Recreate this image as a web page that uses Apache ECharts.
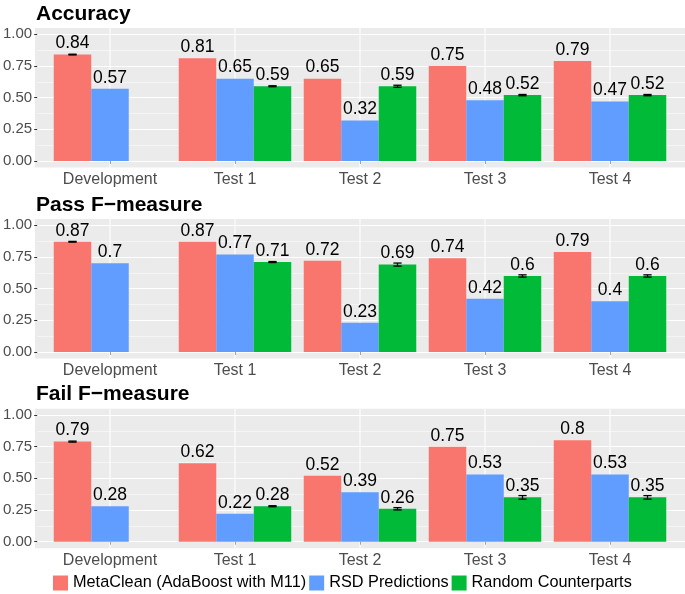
<!DOCTYPE html>
<html>
<head>
<meta charset="utf-8">
<script src="https://cdn.jsdelivr.net/npm/echarts@6/dist/echarts.min.js"></script>
<style>
html,body{margin:0;padding:0;background:#fff;}
#chart{width:685px;height:594px;}
</style>
</head>
<body>
<div id="chart"></div>
<script>
// ---- data ----
var categories = ['Development', 'Test 1', 'Test 2', 'Test 3', 'Test 4'];
var seriesNames = ['MetaClean (AdaBoost with M11)', 'RSD Predictions', 'Random Counterparts'];
var panelTitles = ['Accuracy', 'Pass F\u2212measure', 'Fail F\u2212measure'];
var yTicks = [0, 0.25, 0.5, 0.75, 1];

var accMetaClean = [0.84, 0.81, 0.65, 0.75, 0.79];
var accRSD       = [0.57, 0.65, 0.32, 0.48, 0.47];
var accRandom    = [null, 0.59, 0.59, 0.52, 0.52];
var accMetaCleanErr = [0.003, null, null, null, null];
var accRandomErr    = [null, 0.004, 0.008, 0.005, 0.005];

var passMetaClean = [0.87, 0.87, 0.72, 0.74, 0.79];
var passRSD       = [0.70, 0.77, 0.23, 0.42, 0.40];
var passRandom    = [null, 0.71, 0.69, 0.60, 0.60];
var passMetaCleanErr = [0.003, null, null, null, null];
var passRandomErr    = [null, 0.004, 0.012, 0.009, 0.009];

var failMetaClean = [0.79, 0.62, 0.52, 0.75, 0.80];
var failRSD       = [0.28, 0.22, 0.39, 0.53, 0.53];
var failRandom    = [null, 0.28, 0.26, 0.35, 0.35];
var failMetaCleanErr = [0.004, null, null, null, null];
var failRandomErr    = [null, 0.004, 0.009, 0.014, 0.014];

// ---- layout / style ----
var colors = ['#F8766D', '#619CFF', '#00BA38'];
var FONT = '"Liberation Sans", Arial, Helvetica, sans-serif';
var dataTops = [34.3, 225.3, 415];
var dataH = 126.7;
var padTop = 6.3, padBottom = 6.5;
var panelLeft = 35, panelRight = 0;
var bandInset = 12.5; // ggplot discrete expansion beyond the category bands

var panels = [
  {vals: [accMetaClean, accRSD, accRandom], errs: [accMetaCleanErr, null, accRandomErr]},
  {vals: [passMetaClean, passRSD, passRandom], errs: [passMetaCleanErr, null, passRandomErr]},
  {vals: [failMetaClean, failRSD, failRandom], errs: [failMetaCleanErr, null, failRandomErr]}
];

var grid = [], xAxis = [], yAxis = [], series = [], title = [];
// grid index: 0..2 background, 3..5 y-scale grid (full width), 6..8 bar grid (inset)
panels.forEach(function (p, i) {
  grid.push({left: panelLeft, right: panelRight, top: dataTops[i] - padTop, height: dataH + padTop + padBottom,
    show: true, backgroundColor: '#EBEBEB', borderWidth: 0});
  title.push({text: panelTitles[i], left: 36, top: dataTops[i] - 31, padding: 0,
    textStyle: {fontFamily: FONT, fontSize: 21, fontWeight: 'bold', color: '#000'}});
  xAxis.push({type: 'category', gridIndex: i, data: categories, show: false});
  yAxis.push({type: 'value', gridIndex: i, min: 0, max: 1, show: false, splitLine: {show: false}});
});
panels.forEach(function (p, i) {
  grid.push({left: panelLeft, right: panelRight, top: dataTops[i], height: dataH, show: false});
  xAxis.push({type: 'category', gridIndex: 3 + i, data: categories, show: false});
  yAxis.push({type: 'value', gridIndex: 3 + i, min: 0, max: 1, interval: 0.25,
    axisLine: {show: false},
    axisTick: {show: true, length: 3, lineStyle: {color: '#333', width: 1}},
    axisLabel: {color: '#4D4D4D', fontSize: 15, fontFamily: FONT, margin: 5,
      formatter: function (v) { return v.toFixed(2); }},
    splitLine: {show: true, lineStyle: {color: '#FFFFFF', width: 1.1}},
    minorTick: {show: false, splitNumber: 2},
    minorSplitLine: {show: true, lineStyle: {color: '#FFFFFF', width: 0.5}}});
});
panels.forEach(function (p, i) {
  grid.push({left: panelLeft + bandInset, right: panelRight + bandInset, top: dataTops[i], height: dataH, show: false});
  xAxis.push({type: 'category', gridIndex: 6 + i, data: categories, offset: padBottom,
    axisLine: {show: false},
    axisTick: {show: true, alignWithLabel: true, length: 3, lineStyle: {color: '#333', width: 1}},
    axisLabel: {color: '#4D4D4D', fontSize: 16, fontFamily: FONT, margin: 4},
    splitLine: {show: false}});
  yAxis.push({type: 'value', gridIndex: 6 + i, min: 0, max: 1, show: false, splitLine: {show: false}});
});

// vertical white grid lines at category centres (full panel height)
panels.forEach(function (p, i) {
  series.push({type: 'custom', xAxisIndex: 6 + i, yAxisIndex: 6 + i, silent: true, z: 1,
    data: categories.map(function (c, k) { return [k, 0]; }),
    renderItem: function (params, api) {
      var x = api.coord([api.value(0), 0])[0];
      var cs = params.coordSys;
      return {type: 'line', shape: {x1: x, y1: cs.y - padTop, x2: x, y2: cs.y + cs.height + padBottom},
        style: {stroke: '#FFFFFF', lineWidth: 1.1}};
    }});
});

// bars
panels.forEach(function (p, i) {
  p.vals.forEach(function (arr, s) {
    series.push({type: 'bar', name: seriesNames[s], xAxisIndex: 6 + i, yAxisIndex: 6 + i,
      data: arr.map(function (v) { return v === null ? '-' : v; }),
      barGap: '0%', barCategoryGap: '10%', z: 2,
      itemStyle: {color: colors[s]},
      label: {show: true, position: 'top', distance: 2, color: '#000', fontSize: 17.5, fontFamily: FONT}});
  });
});

// error bars
panels.forEach(function (p, i) {
  p.errs.forEach(function (errArr, s) {
    if (!errArr) return;
    var d = [];
    errArr.forEach(function (e, k) {
      if (e !== null && p.vals[s][k] !== null) d.push([k, p.vals[s][k], e, s]);
    });
    series.push({type: 'custom', xAxisIndex: 6 + i, yAxisIndex: 6 + i, silent: true, z: 5,
      data: d,
      renderItem: function (params, api) {
        var cat = api.value(0), v = api.value(1), e = api.value(2), slot = api.value(3);
        var band = api.size([1, 0])[0];
        var bw = band * 0.9 / 3;
        var cx = api.coord([cat, v])[0] + (slot - 1) * bw;
        var yt = api.coord([cat, v + e])[1];
        var yb = api.coord([cat, v - e])[1];
        var hw = bw * 0.11;
        var st = {stroke: '#000', lineWidth: 1.3};
        return {type: 'group', children: [
          {type: 'line', shape: {x1: cx, y1: yt, x2: cx, y2: yb}, style: st},
          {type: 'line', shape: {x1: cx - hw, y1: yt, x2: cx + hw, y2: yt}, style: st},
          {type: 'line', shape: {x1: cx - hw, y1: yb, x2: cx + hw, y2: yb}, style: st}
        ]};
      }});
  });
});

var chart = echarts.init(document.getElementById('chart'), null, {renderer: 'canvas'});
chart.setOption({
  animation: false,
  backgroundColor: '#FFFFFF',
  title: title,
  grid: grid,
  xAxis: xAxis,
  yAxis: yAxis,
  legend: {data: seriesNames, left: 53, top: 575, itemWidth: 15, itemHeight: 15, itemGap: 3,
    icon: 'rect', padding: 0,
    textStyle: {fontSize: 16.3, color: '#000', fontFamily: FONT}},
  series: series
});
</script>
</body>
</html>
